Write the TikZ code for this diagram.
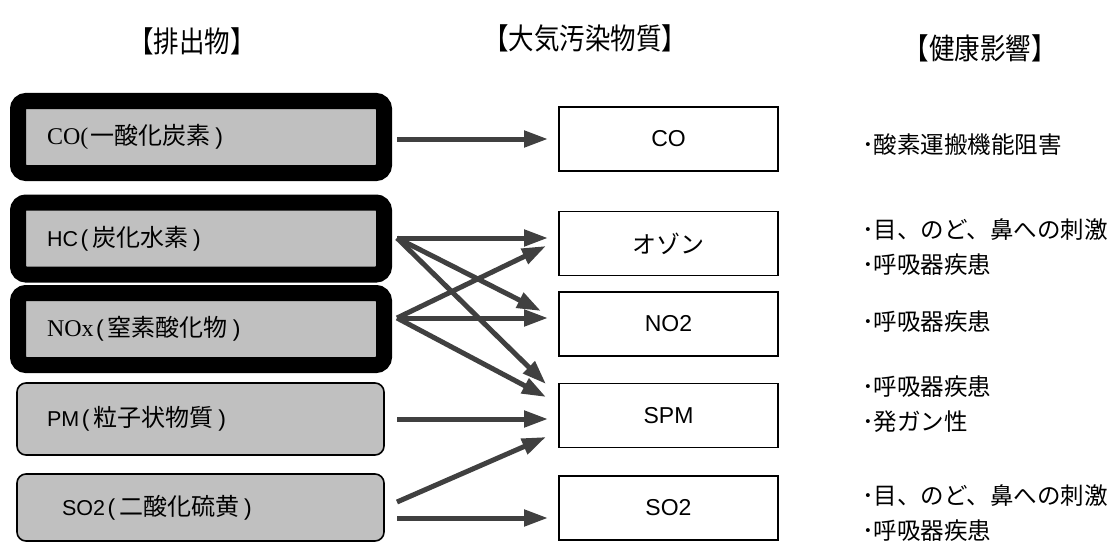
\documentclass[tikz,border=0pt]{standalone}
\usepackage{fontspec}
\setmainfont{Liberation Sans}
\newfontfamily\cjk{Noto Sans CJK JP}
\newfontfamily\tms{Liberation Serif}
\usetikzlibrary{arrows.meta}
\definecolor{boxgray}{HTML}{C0C0C0}
\definecolor{arrgray}{HTML}{404040}
\newcommand\mylp{\hspace{2.5pt}{\fontsize{23}{26}\selectfont(}\hspace{4pt}}
\newcommand\myrp{\hspace{5pt}{\fontsize{23}{26}\selectfont)}}
\begin{document}
\begin{tikzpicture}[x=1pt,y=-1pt,
  thickbox/.style={draw=black, line width=16pt, rounded corners=8pt, fill=boxgray,
    minimum width=366pt, minimum height=72pt, inner ysep=0pt, inner xsep=29pt,
    text width=308pt, align=left, font=\fontsize{21.5}{26}\selectfont},
  thinbox/.style={draw=black, line width=1.6pt, rounded corners=9pt, fill=boxgray,
    minimum width=367pt, inner ysep=0pt, inner xsep=30pt,
    text width=307pt, align=left, font=\fontsize{21.5}{26}\selectfont},
  midbox/.style={draw=black, line width=1.8pt, minimum width=219pt, minimum height=64pt,
    inner sep=0pt, font=\fontsize{23}{26}\selectfont},
  head/.style={inner sep=0pt, font=\cjk\fontsize{25.5}{28}\selectfont},
  effect/.style={anchor=west, inner sep=0pt, align=left, font=\cjk\fontsize{23.5}{35}\selectfont},
  arr/.style={draw=arrgray, line width=5pt, -{Triangle[length=24pt,width=16pt]}}
]
\useasboundingbox (0,0) rectangle (1117,543);

% headers
\node[head] (h1) at (192,41) {\scalebox{1}[1.15]{【排出物】}};
\node[head] (h2) at (585,38) {\scalebox{1}[1.15]{【大気汚染物質】}};
\node[head] (h3) at (980,48) {\scalebox{1}[1.15]{【健康影響】}};

% emission boxes
\node[thickbox] (eCO) at (201,137) {{\tms\fontsize{24}{26}\selectfont CO(}\hspace{2pt}{\cjk\fontsize{24}{26}\selectfont 一酸化炭素}\myrp};
\node[thickbox] (eHC) at (201,238.5) {HC\mylp{\cjk\fontsize{24}{26}\selectfont 炭化水素}\myrp};
\node[thickbox] (eNOx) at (201,329) {{\tms\fontsize{24}{26}\selectfont NOx}\mylp{\cjk\fontsize{24}{26}\selectfont 窒素酸化物}\myrp};
\node[thinbox, minimum height=72pt] (ePM) at (200.5,419) {PM\mylp{\cjk\fontsize{24}{26}\selectfont 粒子状物質}\myrp};
\node[thinbox, minimum height=67pt, inner xsep=45pt, text width=277pt] (eSO2) at (200.5,507.5) {SO2\mylp{\cjk\fontsize{24}{26}\selectfont 二酸化硫黄}\myrp};

% pollutant boxes
\node[midbox] (pCO) at (668.5,139) {CO};
\node[midbox] (pO3) at (668.5,243.5) {{\cjk\fontsize{24}{26}\selectfont オゾン}};
\node[midbox] (pNO2) at (668.5,324) {NO2};
\node[midbox] (pSPM) at (668.5,415.5) {SPM};
\node[midbox] (pSO2) at (668.5,508) {SO2};

% ports
\coordinate (oCO) at (397,139);
\coordinate (oHC) at (397,238);
\coordinate (oNOx) at (397,318);
\coordinate (oPM) at (397,419);
\coordinate (oSO2a) at (397,502);
\coordinate (oSO2b) at (397,518);
\coordinate (iCO) at (548,139);
\coordinate (iO3a) at (548,238);
\coordinate (iO3b) at (546,246);
\coordinate (iNO2a) at (541,311);
\coordinate (iNO2b) at (548,318);
\coordinate (iSPMa) at (546,384);
\coordinate (iSPMb) at (546,397);
\coordinate (iSPMc) at (548,419);
\coordinate (iSPMd) at (546,437);
\coordinate (iSO2) at (548,518);

% arrows
\draw[arr] (oCO) -- (iCO);
\draw[arr] (oHC) -- (iO3a);
\draw[arr] (oHC) -- (iNO2a);
\draw[arr] (oHC) -- (iSPMa);
\draw[arr] (oNOx) -- (iO3b);
\draw[arr] (oNOx) -- (iNO2b);
\draw[arr] (oNOx) -- (iSPMb);
\draw[arr] (oPM) -- (iSPMc);
\draw[arr] (oSO2a) -- (iSPMd);
\draw[arr] (oSO2b) -- (iSO2);

% health effects
\node[effect] (fCO) at (862,145) {･酸素運搬機能阻害};
\node[effect] (fO3) at (862,247.5) {･目、のど、鼻への刺激\\･呼吸器疾患};
\node[effect] (fNO2) at (862,322) {･呼吸器疾患};
\node[effect] (fSPM) at (862,404.5) {･呼吸器疾患\\･発ガン性};
\node[effect] (fSO2) at (862,513.5) {･目、のど、鼻への刺激\\･呼吸器疾患};
\end{tikzpicture}
\end{document}
